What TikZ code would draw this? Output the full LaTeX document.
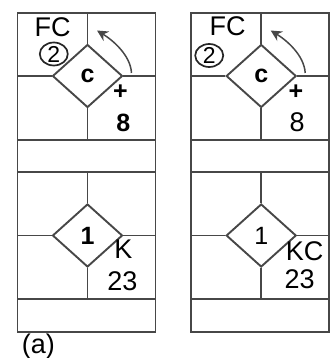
\documentclass[tikz,border=0pt]{standalone}
\usepackage{fontspec}
\setmainfont{Liberation Sans}
\usepackage{tikz}
\usetikzlibrary{shapes.geometric,arrows.meta}

\begin{document}
\begin{tikzpicture}[x=1pt,y=-1pt,
  grid/.style={line width=1.9pt,draw=black!72},
  rhomb/.style={diamond,draw=black!72,line width=1.9pt,minimum width=70pt,minimum height=63pt,inner sep=0pt},
  lbl/.style={inner sep=0pt,font=\fontsize{27}{27}\selectfont},
  heavy/.style={inner sep=0pt,font=\fontsize{25}{25}\selectfont\bfseries},
  ring/.style={ellipse,draw=black!85,line width=1.7pt,minimum width=28pt,minimum height=23pt,inner sep=0pt,font=\fontsize{23}{23}\selectfont}]
\useasboundingbox (0,0) rectangle (330,358);

% 二つの枠
\foreach \p/\dx/\wt in {a/17.5/\bfseries,b/191.2/\mdseries} {
    % ひし形
    \node[rhomb,font=\fontsize{25}{25}\selectfont\bfseries] (top\p) at (\dx+70,76) {c};
    \node[rhomb,font=\fontsize{25}{25}\selectfont\wt] (bot\p) at (\dx+70,235.5) {1};
    % 外枠と横線
    \draw[grid] (\dx,12.7) rectangle (\dx+138,332);
    \draw[grid] (\dx,140) -- (\dx+138,140);
    \draw[grid] (\dx,172) -- (\dx+138,172);
    \draw[grid] (\dx,299) -- (\dx+138,299);
    % ひし形から枠へ
    \draw[grid] (top\p.west) -- (top\p.west -| \dx,0);
    \draw[grid] (top\p.east) -- (top\p.east -| \dx+138,0);
    \draw[grid] (top\p.north) -- (top\p.north |- 0,12.7);
    \draw[grid] (top\p.south) -- (top\p.south |- 0,140);
    \draw[grid] (bot\p.west) -- (bot\p.west -| \dx,0);
    \draw[grid] (bot\p.east) -- (bot\p.east -| \dx+138,0);
    \draw[grid] (bot\p.north) -- (bot\p.north |- 0,172);
    \draw[grid] (bot\p.south) -- (bot\p.south |- 0,299);
    % 回転の矢印
    \coordinate (from\p) at (\dx+114,73);
    \coordinate (to\p) at (\dx+79.5,30.5);
    \draw[grid,line width=1.5pt,-{Stealth[length=11pt,width=11pt]}] (from\p) .. controls (\dx+113,55) and (\dx+95,40) .. (to\p);
}

% 左の枠の文字
\node[lbl] (fca) at (52.5,27) {FC};
\node[ring] (twoa) at (53.8,54) {2};
\node[heavy] (plusa) at (120.3,91.7) {+};
\node[heavy] (eighta) at (123.3,123.3) {8};
\node[lbl] (ka) at (123.3,249) {K};
\node[lbl] (numa) at (122.5,281) {23};
\node[lbl] (capa) at (38.3,346.7) {(a)};

% 右の枠の文字
\node[lbl] (fcb) at (227.5,26.3) {FC};
\node[ring] (twob) at (209.2,55.5) {2};
\node[heavy] (plusb) at (295.8,92.5) {+};
\node[lbl] (eightb) at (297.2,122.5) {8};
\node[lbl] (kcb) at (304.5,251.7) {KC};
\node[lbl] (numb) at (299.7,279) {23};

\end{tikzpicture}
\end{document}
